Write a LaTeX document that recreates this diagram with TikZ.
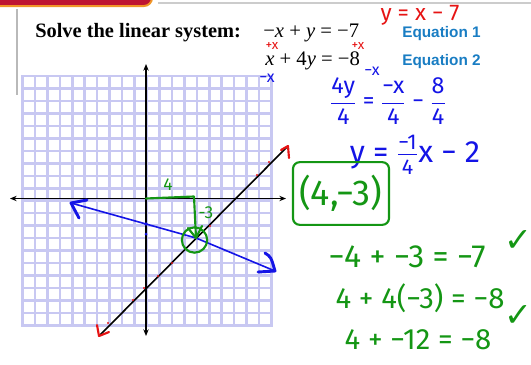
\documentclass[tikz,border=0pt]{standalone}
\usepackage{amsmath}
\usepackage{fontspec}
\setmainfont{Liberation Serif}
\newfontfamily\handfont{Fira Sans}
\newfontfamily\eqfont{Liberation Sans}
\newfontfamily\symfont{DejaVu Sans}
\usetikzlibrary{arrows.meta,positioning}

\definecolor{gridlav}{RGB}{200,200,242}
\definecolor{bannerred}{RGB}{190,20,50}
\definecolor{bannerorange}{RGB}{240,150,40}
\definecolor{eqblue}{RGB}{25,125,195}
\definecolor{inkblue}{RGB}{20,20,230}
\definecolor{inkgreen}{RGB}{20,150,20}
\definecolor{inkred}{RGB}{230,20,20}

\tikzset{
  gridline/.style={gridlav, line width=1.9pt, line cap=rect},
  axisline/.style={black, line width=1.4pt, {Stealth[length=5pt,width=4pt]}-{Stealth[length=5pt,width=4pt]}},
  hand/.style={font=\handfont\fontsize{#1}{#1}\selectfont, inner sep=0pt},
  inkstroke/.style={line width=1.6pt, line cap=round, line join=round},
  eqlabel/.style={font=\eqfont\bfseries\fontsize{11.5}{13}\selectfont, text=eqblue, inner sep=0pt, anchor=base west}
}

\begin{document}
\begin{tikzpicture}[x=0.75pt, y=-0.75pt, >=Stealth, font=\small]
  \useasboundingbox (0,0) rectangle (531,364);

  % page frame
  \fill[bannerred, draw=bannerorange, line width=1.5pt, rounded corners=6pt] (-10,-12) rectangle (152,6);
  \draw[gray!40, line width=0.8pt] (158,3) -- (531,3);
  \draw[gray!55, line width=1.2pt] (17,9) -- (17,95);

  % problem text
  \node[anchor=base west, inner sep=0pt, font=\bfseries\fontsize{15.3}{18}\selectfont] (prompt) at (35,37) {Solve the linear system:};
  \node[anchor=base west, inner sep=0pt, font=\fontsize{15.5}{18}\selectfont] (eqOne) at (263,37) {−\textit{x} + \textit{y} = −7};
  \node[anchor=base west, inner sep=0pt, font=\fontsize{15.5}{18}\selectfont] (eqTwo) at (265,65) {\textit{x} + 4\textit{y} = −8};
  \node[eqlabel] (labOne) at (402,37) {Equation 1};
  \node[eqlabel] (labTwo) at (402,65) {Equation 2};

  % grid
  \foreach \i in {0,...,20} {
    \draw[gridline] (22.5+12.45*\i,76) -- (22.5+12.45*\i,325.5);
    \draw[gridline] (22.5,76+12.475*\i) -- (271.5,76+12.475*\i);
  }

  % axes
  \coordinate (xL) at (10,198.5);
  \coordinate (xR) at (286,198.5);
  \coordinate (yT) at (146,64);
  \coordinate (yB) at (146,336);
  \coordinate (O) at (146,198.5);
  \draw[axisline] (xL) -- (xR);
  \draw[axisline] (yB) -- (yT);

  % y = x - 7
  \coordinate (kLo) at (99,336);
  \coordinate (kHi) at (288,146);
  \draw[black, line width=1.2pt] (kLo) -- (kHi);
  \draw[inkred, inkstroke] (kHi) ++(-7,4) -- (kHi) -- ++(1,12);
  \draw[inkred, inkstroke] (kLo) ++(-2,-11) -- (kLo) -- ++(10,-4);
  \foreach \p in {(269,162),(257,175),(210,226),(172,263),(158,276),(144,288),(133,300),(108,323)}
    \fill[inkred] \p circle (1.2);

  % y = -x/4 - 2
  \coordinate (bL) at (71,203);
  \coordinate (sol) at (196,238);
  \coordinate (bR) at (275,271);
  \draw[inkblue, line width=1.2pt] (bL) -- (sol) -- (bR);
  \draw[inkblue, inkstroke, line width=2.2pt] (bL) ++(16,-3) -- (bL) -- ++(8,15);
  \draw[inkblue, inkstroke, line width=2.2pt] (bR) ++(-10,-18) .. controls +(6,4) .. (bR) -- ++(-17,1);
  \fill[inkblue] (146,224) circle (1.8);
  \fill[inkblue] (146,234) circle (1.5);

  % slope steps
  \coordinate (gC) at (194,196.5);
  \draw[inkgreen, inkstroke] (O) -- (gC) -- (sol);
  \draw[inkgreen, inkstroke] (sol) ++(-8,-10) -- (sol) -- ++(6,-12);
  \node[draw=inkgreen, line width=1.6pt, circle, minimum size=19pt, inner sep=0pt] (solRing) at (194.5,240) {};
  \node[hand=13, text=inkgreen] (runLbl) at (168,185) {4};
  \node[hand=13, text=inkgreen] (riseLbl) at (206,213) {-3};

  % working
  \node[hand=17, text=inkred] (noteY) at (420,15) {y = x − 7};
  \node[hand=10, text=inkred] (addOne) at (272,46) {+x};
  \node[hand=10, text=inkred] (addTwo) at (358,46) {+x};
  \node[hand=12, text=inkblue] (subOne) at (267,78) {−x};
  \node[hand=12, text=inkblue] (subTwo) at (372,71) {−x};
  \node[hand=17.5, text=inkblue] (divStep) at (388,101) {$\dfrac{\text{4y}}{\text{4}}\text{ = }\dfrac{\text{−x}}{\text{4}}\text{ − }\dfrac{\text{8}}{\text{4}}$};
  \node[hand=23, text=inkblue] (slopeForm) at (415,155) {y = $\frac{\text{−1}}{\text{4}}$x − 2};
  \node[hand=27, text=inkgreen, draw=inkgreen, line width=1.6pt, rounded corners=5pt, minimum width=72pt, minimum height=47pt] (solBox) at (341,193.5) {(4,−3)};
  \node[hand=24, text=inkgreen] (chkOne) at (407,257) {−4 + −3 = −7};
  \node[hand=22, text=inkgreen] (chkTwo) at (420,298) {4 + 4(−3) = −8};
  \node[hand=22, text=inkgreen] (chkThree) at (418,340) {4 + −12 = −8};
  \node[font=\symfont\fontsize{25}{25}\selectfont, text=inkgreen, inner sep=0pt] (tickOne) at (518,241) {✓};
  \node[font=\symfont\fontsize{25}{25}\selectfont, text=inkgreen, inner sep=0pt] (tickTwo) at (518,316) {✓};
\end{tikzpicture}
\end{document}
